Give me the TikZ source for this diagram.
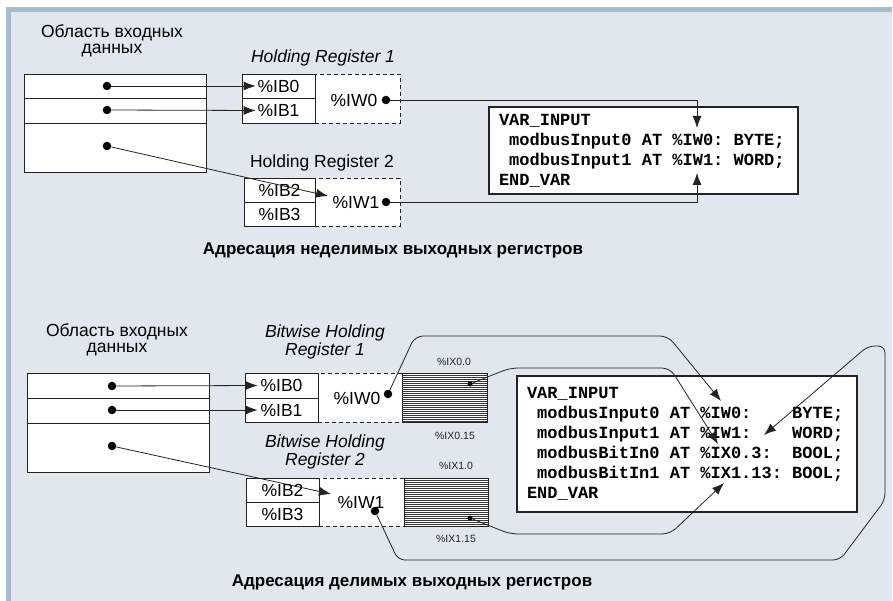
\documentclass[tikz,border=0pt]{standalone}
\usepackage{fontspec}
\setmainfont{Liberation Sans}
\newfontfamily\codefont{Liberation Mono}
\newcommand\csp{\hphantom{0}}
\usetikzlibrary{arrows.meta}
\definecolor{bgin}{RGB}{224,231,239}
\definecolor{band}{RGB}{168,187,205}
\definecolor{ln}{RGB}{35,35,35}
\begin{document}
\begin{tikzpicture}[x=1pt,y=-1pt,
  lbl/.style={font=\fontsize{17.5}{16}\selectfont, align=center, inner sep=0},
  ilbl/.style={font=\fontsize{17.5}{18}\selectfont\itshape, align=center, inner sep=0},
  txt/.style={font=\fontsize{17.5}{17}\selectfont, inner sep=0},
  small/.style={font=\fontsize{10.5}{10}\selectfont, inner sep=0, text=ln},
  title/.style={font=\fontsize{17}{17}\selectfont\bfseries, inner sep=0},
  row/.style={draw=ln, fill=white, inner sep=0, line width=0.9pt, minimum width=182},
  cell/.style={draw=ln, fill=white, inner sep=0, line width=0.8pt, font=\fontsize{17.5}{17}\selectfont},
  dcell/.style={draw=ln, fill=white, inner sep=0, line width=0.8pt, dash pattern=on 4pt off 3pt},
  hcell/.style={draw=ln, fill=white, inner sep=0, line width=0.8pt},
  hatch/.style={draw=ln!90, line width=0.55pt},
  dot/.style={circle, fill=black, inner sep=0, minimum size=8.5pt},
  arr/.style={draw=ln, line width=0.8pt, -{Latex[length=12pt,width=9pt]}},
  codebox/.style={draw=ln, fill=white, line width=2.2pt, inner xsep=10pt, inner ysep=0pt, align=left,
    font=\codefont\bfseries\fontsize{17}{20}\selectfont}
]
\useasboundingbox (0,0) rectangle (893,601);
\fill[white] (0,0) rectangle (893,601);
\fill[bgin] (6,7) rectangle (892,601);
\fill[band] (6,7) rectangle (892,12);
\fill[band] (6,7) rectangle (11,601);

% ---------------- Section 1 ----------------
\node[lbl] (src1) at (112,41) {Область входных\\данных};
\node[row, minimum height=24] (a1) at (115,86) {};
\node[row, minimum height=25] (a2) at (115,110.5) {};
\node[row, minimum height=49] (a3) at (115,147.5) {};
\node[dot] (d1) at (107,86) {};
\node[dot] (d2) at (107,110) {};
\node[dot] (d3) at (107,146) {};

\node[ilbl] (hr1) at (323,58) {Holding Register 1};
\node[dcell, minimum width=85, minimum height=49] (w0) at (357.5,98.5) {};
\node[cell, minimum width=73, minimum height=24] (b0) at (278.5,86) {\%IB0};
\node[cell, minimum width=73, minimum height=25] (b1) at (278.5,110.5) {\%IB1};
\node[txt] (w0t) at (354,100) {\%IW0};
\node[dot] (w0d) at (386,100) {};

\node[lbl] (hr2) at (322,163) {Holding Register 2};
\node[dcell, minimum width=85, minimum height=48] (w1) at (357.5,202) {};
\node[cell, minimum width=71, minimum height=24] (b2) at (279.5,190) {\%IB2};
\node[cell, minimum width=71, minimum height=24] (b3) at (279.5,214) {\%IB3};
\node[txt] (w1t) at (356,202) {\%IW1};
\node[dot] (w1d) at (386,202) {};

\draw[arr] (d1) -- ([xshift=14pt]b0.west);
\draw[arr] (d2) -- ([xshift=14pt]b1.west);
\coordinate (t0) at (328,196);
\draw[arr] (d3) -- (t0);

\node[codebox, minimum width=309, minimum height=87, text width=289] (v1) at (643.5,150.5)
{VAR\_INPUT\\
\csp modbusInput0\csp AT\csp\%IW0:\csp BYTE;\\
\csp modbusInput1\csp AT\csp\%IW1:\csp WORD;\\
END\_VAR};
\coordinate (v1a) at (697,128);
\coordinate (v1b) at (697,173);
\draw[arr] (w0d) -| (v1a);
\draw[arr] (w1d) -| (v1b);

\node[title] (ttl1) at (393,250) {Адресация неделимых выходных регистров};

% ---------------- Section 2 ----------------
\node[lbl] (src2) at (117,340) {Область входных\\данных};
\node[row, minimum height=25] (c1) at (118,385.5) {};
\node[row, minimum height=25] (c2) at (118,410.5) {};
\node[row, minimum height=49] (c3) at (118,447.5) {};
\node[dot] (e1) at (112,386) {};
\node[dot] (e2) at (112,410) {};
\node[dot] (e3) at (112,446) {};

\node[ilbl] (bh1) at (325,342) {Bitwise Holding\\Register 1};
\node[ilbl] (bh2) at (325,452) {Bitwise Holding\\Register 2};

\node[dcell, minimum width=84, minimum height=49] (gw0) at (360,397.5) {};
\node[hcell, minimum width=85, minimum height=49] (h0) at (444.5,397.5) {};
\foreach \yy in {375,377,...,421} \draw[hatch] (402.5,\yy) -- (486.5,\yy);
\node[cell, minimum width=73, minimum height=25] (g0) at (281.5,385.5) {\%IB0};
\node[cell, minimum width=73, minimum height=24] (g1) at (281.5,410) {\%IB1};
\node[txt] (gw0t) at (357,398) {\%IW0};
\node[dot] (gw0d) at (388,394) {};
\node[dot, minimum size=5pt] (h0d) at (470,384) {};

\node[dcell, minimum width=85, minimum height=48] (gw1) at (361.5,502) {};
\node[hcell, minimum width=84, minimum height=48] (h1) at (446,502) {};
\foreach \yy in {480,482,...,525} \draw[hatch] (404.5,\yy) -- (487.5,\yy);
\node[cell, minimum width=73, minimum height=24] (g2) at (282.5,490) {\%IB2};
\node[cell, minimum width=73, minimum height=24] (g3) at (282.5,514) {\%IB3};
\node[txt] (gw1t) at (361,502) {\%IW1};
\node[dot] (gw1d) at (375,511) {};
\node[dot, minimum size=5pt] (h1d) at (470,518) {};

\node[small] (x00) at (454,362) {\%IX0.0};
\node[small] (x015) at (455,436) {\%IX0.15};
\node[small] (x10) at (456,466) {\%IX1.0};
\node[small] (x115) at (456,539) {\%IX1.15};

\draw[arr] (e1) -- ([xshift=13pt]g0.west);
\draw[arr] (e2) -- ([xshift=13pt]g1.west);
\coordinate (t1) at (331,494);
\draw[arr] (e3) -- (t1);

\node[codebox, minimum width=340, minimum height=136, text width=320] (v2) at (687,444)
{VAR\_INPUT\\
\csp modbusInput0\csp AT\csp\%IW0:\csp\csp\csp\csp BYTE;\\
\csp modbusInput1\csp AT\csp\%IW1:\csp\csp\csp\csp WORD;\\
\csp modbusBitIn0\csp AT\csp\%IX0.3:\csp\csp BOOL;\\
\csp modbusBitIn1\csp AT\csp\%IX1.13:\csp BOOL;\\
END\_VAR};

\coordinate (k1) at (721,401);
\coordinate (k2) at (718,444);
\coordinate (k3) at (724,483);
\coordinate (k4) at (764,435);
\draw[arr, rounded corners=8pt] (gw0d) -- (415,336) -- (668,336) -- (k1);
\draw[arr, rounded corners=8pt] (h0d) -- (510,368) -- (670,368) -- (k2);
\draw[arr, rounded corners=8pt] (h1d) -- (510,534) -- (670,534) -- (k3);
\draw[arr, rounded corners=7pt] (gw1d) -- (398,560) -- (840,560) -- (885,500) -- (885,346) -- (868,346) -- (k4);

\node[title] (ttl2) at (412,582) {Адресация делимых выходных регистров};
\end{tikzpicture}
\end{document}
